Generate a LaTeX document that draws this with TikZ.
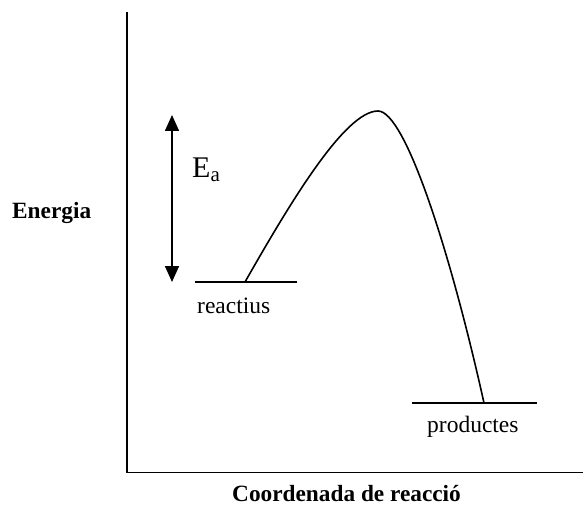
\documentclass[tikz,border=0pt]{standalone}
\usepackage{fontspec}
\setmainfont{Liberation Serif}
\usetikzlibrary{arrows.meta}
\begin{document}
\begin{tikzpicture}[x=1pt,y=-1pt,
  line/.style={line width=1.6pt},
  lbl/.style={font=\fontsize{23.5}{26}\selectfont,inner sep=0pt,anchor=base west},
  axlbl/.style={font=\fontsize{23.3}{26}\selectfont\bfseries,inner sep=0pt,anchor=base west}]
\useasboundingbox (0,0) rectangle (583,505);
% axes
\coordinate (ytop) at (127,12);
\coordinate (orig) at (127,472.5);
\coordinate (xend) at (583,472.5);
\draw[line width=1.8pt] (ytop) -- (orig) -- (xend);
% levels
\coordinate (rL) at (195,282);
\coordinate (rR) at (297,282);
\coordinate (pL) at (412,403);
\coordinate (pR) at (537,403);
\draw[line] (rL) -- (rR);
\draw[line] (pL) -- (pR);
% curve
\coordinate (cs) at (245,282);
\coordinate (peak) at (378,111);
\coordinate (ce) at (484,403);
\draw[line] (cs) .. controls (290,203) and (345,111) .. (peak)
  .. controls (405,111) and (450,250) .. (ce);
% Ea arrow
\coordinate (at) at (172,115);
\coordinate (ab) at (172,282);
\draw[line,{Triangle[length=16pt,width=14pt]}-{Triangle[length=16pt,width=14pt]}] (at) -- (ab);
\node[inner sep=0pt,anchor=base west,font=\fontsize{30}{32}\selectfont] (ea) at (192,178) {E\raisebox{-0.12em}{\fontsize{21}{22}\selectfont a}};
% labels
\node[lbl] (reac) at (197,313) {reactius};
\node[lbl] (prod) at (427,432) {productes};
\node[axlbl] (en) at (12,218) {Energia};
\node[axlbl] (coord) at (232,501) {Coordenada de reacció};
\end{tikzpicture}
\end{document}
